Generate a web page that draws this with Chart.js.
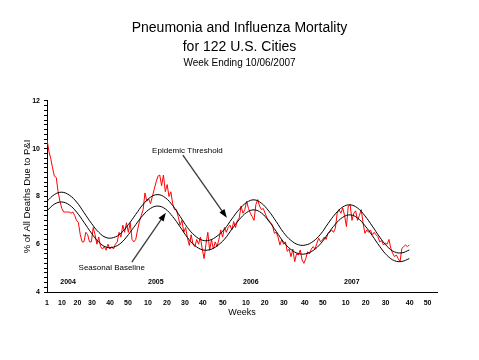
<!DOCTYPE html>
<html>
<head>
<meta charset="utf-8">
<script src="https://cdn.jsdelivr.net/npm/chart.js@4.4.1/dist/chart.umd.min.js"></script>
<style>
  html, body { margin: 0; padding: 0; background: #fff; }
  #wrap { width: 479px; height: 360px; }
</style>
</head>
<body>
<div id="wrap"><canvas id="piChart" width="479" height="360"></canvas></div>
<script>
// Weekly % of all deaths due to P&I, one value per week (2004 has 53 weeks)
const pi2004 = [10.4, 9.9, 9.6, 9.2, 8.85, 8.8, 8.2, 7.8, 7.5, 7.35, 7.35, 7.35, 7.35, 7.3, 7.35, 7.2, 7.0, 6.9, 6.4, 6.1,
  6.1, 6.5, 6.4, 6.1, 6.1, 6.7, 6.4, 6.0, 6.3, 5.9, 5.8, 5.9, 5.75, 6.0, 5.8, 5.9, 5.8, 6.0, 6.1, 6.5,
  6.3, 6.8, 6.5, 6.9, 6.5, 6.9, 6.2, 6.1, 6.2, 6.6, 6.95, 7.2, 7.45];
const pi2005 = [8.15, 7.8, 7.9, 7.7, 8.0, 8.3, 8.6, 8.85, 8.9, 8.45, 8.9, 8.2, 8.5, 8.0, 8.2, 7.7, 7.45, 7.45, 7.15, 6.8,
  7.0, 6.5, 6.7, 6.25, 5.95, 6.4, 6.0, 5.9, 6.2, 6.0, 6.3, 5.8, 5.4, 6.0, 6.5, 5.75, 6.2, 5.8, 6.1, 5.9,
  6.2, 6.6, 6.3, 6.7, 6.5, 6.7, 6.8, 6.6, 6.95, 6.7, 7.0, 7.1];
const pi2006 = [7.6, 7.3, 7.45, 7.8, 7.5, 7.3, 7.16, 7.0, 7.66, 7.87, 7.6, 7.45, 7.5, 7.3, 7.1, 7.0, 6.9, 6.8, 6.46, 6.5,
  6.3, 5.97, 6.2, 6.0, 6.1, 5.7, 5.8, 5.48, 5.8, 5.27, 5.6, 5.55, 5.76, 5.34, 5.2, 5.4, 5.69, 5.6, 5.8, 5.9,
  5.8, 6.04, 6.25, 6.1, 6.18, 6.3, 6.2, 6.46, 6.5, 6.6, 6.5, 6.67];
const pi2007 = [7.3, 7.45, 7.3, 7.52, 7.2, 6.74, 7.6, 7.66, 7.0, 7.3, 7.4, 7.0, 7.2, 7.45, 6.89, 6.46, 6.6, 6.5, 6.6, 6.39,
  6.5, 6.4, 6.32, 6.1, 6.15, 5.97, 6.05, 6.0, 6.2, 5.83, 5.62, 5.48, 5.55, 5.4, 5.27, 5.83, 5.9, 5.97, 5.9, 5.97];

// Seasonal baseline and epidemic threshold, read every 4 weeks
const curveWeeks = [1, 5, 9, 13, 17, 21, 25, 29, 33, 37, 41, 45, 49, 53, 57, 61, 65, 69, 73, 77, 81, 85, 89, 93, 97,
  101, 105, 109, 113, 117, 121, 125, 129, 133, 137, 141, 145, 149, 153, 157, 161, 165, 169, 173, 177, 181, 185, 189, 193, 197];
const baseline = [7.40, 7.68, 7.77, 7.65, 7.35, 6.92, 6.47, 6.09, 5.88, 5.88, 6.05, 6.40, 6.82, 7.22, 7.50, 7.60, 7.48, 7.16, 6.73, 6.28,
  5.95, 5.77, 5.77, 5.93, 6.21, 6.63, 7.03, 7.33, 7.44, 7.31, 6.97, 6.54, 6.09, 5.78, 5.61, 5.60, 5.74, 6.02, 6.44, 6.84,
  7.13, 7.23, 7.10, 6.78, 6.36, 5.91, 5.53, 5.31, 5.28, 5.40];
const threshold = [7.80, 8.08, 8.18, 8.06, 7.77, 7.33, 6.88, 6.50, 6.28, 6.28, 6.46, 6.82, 7.25, 7.67, 7.97, 8.08, 7.95, 7.62, 7.17, 6.70,
  6.36, 6.17, 6.17, 6.34, 6.63, 7.06, 7.46, 7.75, 7.86, 7.72, 7.39, 6.95, 6.49, 6.16, 5.98, 5.97, 6.12, 6.42, 6.86, 7.27,
  7.56, 7.65, 7.52, 7.19, 6.76, 6.30, 5.91, 5.68, 5.64, 5.76];

// x axis labels (week numbers within each year) and where they sit on the week index
const tickText = ['1', '10', '20', '30', '40', '50', '10', '20', '30', '40', '50', '10', '20', '30', '40', '50', '10', '20', '30', '40', '50'];
const tickWeeks = [1, 9.1, 17.5, 25.3, 35.1, 44.8, 55.6, 65.9, 75.6, 85.3, 96.1, 108.6, 118.8, 129.1, 140.5, 150.2, 162.6, 173.4, 184.2, 197.2, 206.9];

const yearNames = ['2004', '2005', '2006', '2007'];
const yearWeeks = [12.4, 59.9, 111.3, 165.9];

const FONT = "'Liberation Sans', Arial, sans-serif";

const piWeekly = pi2004.concat(pi2005, pi2006, pi2007).map((v, i) => ({ x: i + 1, y: v }));
const toPoints = vals => vals.map((v, i) => ({ x: curveWeeks[i], y: v }));

// Text labels, arrows and year names placed in data units
const notesPlugin = {
  id: 'notes',
  afterDatasetsDraw(chart) {
    const { ctx, scales: { x, y } } = chart;
    const px = w => x.getPixelForValue(w);
    const py = v => y.getPixelForValue(v);

    ctx.save();
    ctx.fillStyle = '#000';
    ctx.textAlign = 'center';
    ctx.textBaseline = 'middle';

    ctx.font = 'bold 7px ' + FONT;
    yearNames.forEach((name, i) => ctx.fillText(name, px(yearWeeks[i]), py(4.41)));

    ctx.font = '8px ' + FONT;
    ctx.fillText('Epidemic Threshold', px(77), py(9.9));
    ctx.fillText('Seasonal Baseline', px(36), py(5.0));

    drawArrow(ctx, px(74.5), py(9.73), px(98.3), py(7.11));
    drawArrow(ctx, px(46.9), py(5.25), px(65.3), py(7.32));
    ctx.restore();
  }
};

function drawArrow(ctx, x1, y1, x2, y2) {
  const ang = Math.atan2(y2 - y1, x2 - x1);
  ctx.strokeStyle = '#404040';
  ctx.lineWidth = 1.4;
  ctx.beginPath();
  ctx.moveTo(x1, y1);
  ctx.lineTo(x2 - 6 * Math.cos(ang), y2 - 6 * Math.sin(ang));
  ctx.stroke();
  ctx.fillStyle = '#000';
  ctx.beginPath();
  ctx.moveTo(x2, y2);
  ctx.lineTo(x2 - 9 * Math.cos(ang - 0.35), y2 - 9 * Math.sin(ang - 0.35));
  ctx.lineTo(x2 - 9 * Math.cos(ang + 0.35), y2 - 9 * Math.sin(ang + 0.35));
  ctx.closePath();
  ctx.fill();
}

new Chart(document.getElementById('piChart'), {
  type: 'line',
  data: {
    datasets: [
      {
        label: 'Epidemic Threshold',
        data: toPoints(threshold),
        borderColor: '#000',
        borderWidth: 1,
        pointRadius: 0,
        tension: 0.4
      },
      {
        label: 'Seasonal Baseline',
        data: toPoints(baseline),
        borderColor: '#000',
        borderWidth: 1,
        pointRadius: 0,
        tension: 0.4
      },
      {
        label: 'P&I',
        data: piWeekly,
        borderColor: '#ff0000',
        borderWidth: 1,
        pointRadius: 0,
        tension: 0
      }
    ]
  },
  options: {
    responsive: false,
    animation: false,
    layout: { padding: 0 },
    plugins: {
      legend: { display: false },
      tooltip: { enabled: false },
      title: {
        display: true,
        text: ['Pneumonia and Influenza Mortality', 'for 122 U.S. Cities'],
        color: '#000',
        font: { family: FONT, size: 14, weight: 'normal', lineHeight: 1.357 },
        padding: { top: 19, bottom: 0 }
      },
      subtitle: {
        display: true,
        text: 'Week Ending 10/06/2007',
        color: '#000',
        font: { family: FONT, size: 10, weight: 'normal', lineHeight: 1.2 },
        padding: { top: 0, bottom: 32 }
      }
    },
    scales: {
      x: {
        type: 'linear',
        min: 1,
        max: 212,
        border: { display: true, color: '#000', width: 1 },
        grid: { display: false, drawTicks: false },
        afterBuildTicks: scale => { scale.ticks = tickWeeks.map(v => ({ value: v })); },
        afterFit: scale => { scale.height = 68; },
        ticks: {
          autoSkip: false,
          maxRotation: 0,
          padding: 7,
          color: '#000',
          font: { family: FONT, size: 7, weight: 'bold' },
          callback: (value, index) => tickText[index]
        },
        title: {
          display: true,
          text: 'Weeks',
          color: '#000',
          font: { family: FONT, size: 9 },
          padding: { top: 0, bottom: 41.6 }
        }
      },
      y: {
        min: 4,
        max: 12,
        border: { display: true, color: '#000', width: 1 },
        grid: { drawOnChartArea: false, drawTicks: true, tickLength: 3, tickColor: '#000' },
        afterFit: scale => { scale.width = 47; },
        ticks: {
          stepSize: 0.2,
          autoSkip: false,
          padding: 4,
          color: '#000',
          font: { family: FONT, size: 7, weight: 'bold' },
          callback: value => {
            const r = Math.round(value);
            return Math.abs(value - r) < 1e-6 && r % 2 === 0 ? String(r) : '';
          }
        },
        title: {
          display: true,
          text: '% of All Deaths Due to P&I',
          color: '#000',
          font: { family: FONT, size: 9.5 },
          padding: { top: 22, bottom: 0 }
        }
      },
      // empty right-hand band so the plot stops short of the page edge
      spacer: {
        position: 'right',
        display: true,
        ticks: { display: false },
        grid: { display: false },
        border: { display: false },
        afterFit: scale => { scale.width = 42; }
      }
    }
  },
  plugins: [notesPlugin]
});
</script>
</body>
</html>
